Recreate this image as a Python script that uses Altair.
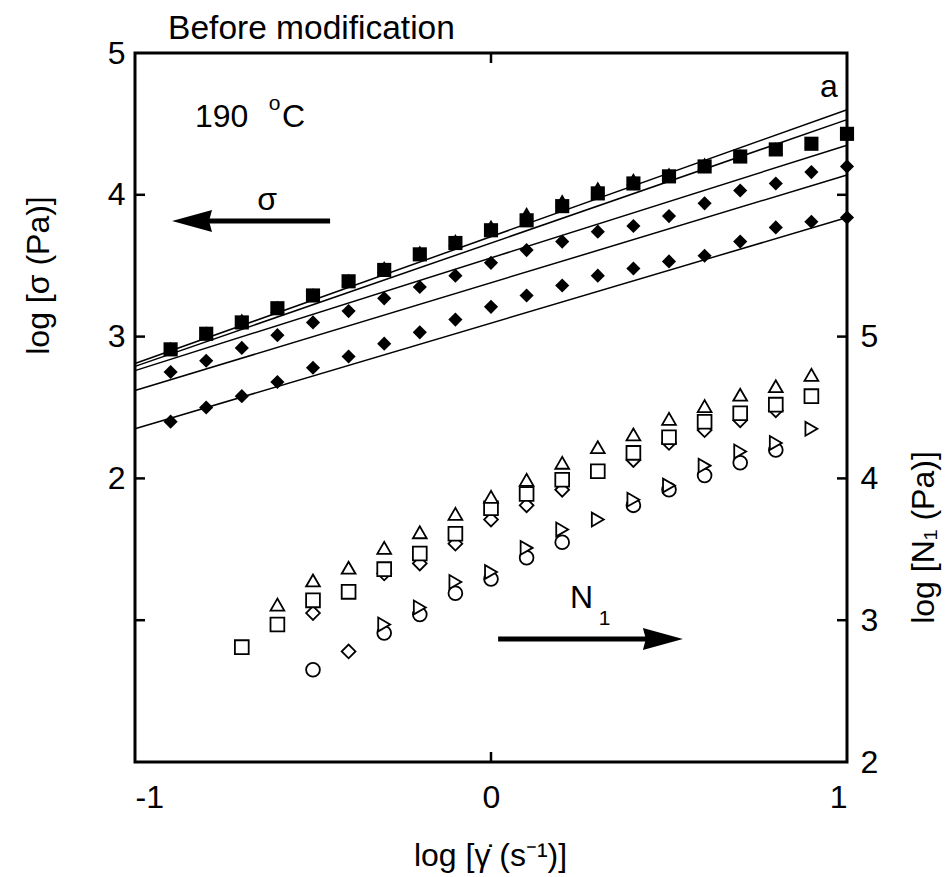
import altair as alt
import pandas as pd

# ---------------- data ----------------
# shear stress, log sigma (Pa) vs log shear rate
x_sig = [-0.9, -0.8, -0.7, -0.6, -0.5, -0.4, -0.3, -0.2, -0.1, 0.0,
         0.1, 0.2, 0.3, 0.4, 0.5, 0.6, 0.7, 0.8, 0.9, 1.0]
sig_square = [2.91, 3.02, 3.10, 3.20, 3.29, 3.39, 3.47, 3.58, 3.66, 3.75,
              3.82, 3.92, 4.01, 4.08, 4.13, 4.20, 4.27, 4.32, 4.36, 4.43]
x_sig_tri = [-0.9, -0.8, -0.7, -0.6, -0.5, -0.4, -0.3, -0.2, -0.1, 0.0,
             0.1, 0.2, 0.3, 0.4, 0.5, 0.6, 0.7, 0.8]
sig_triangle = [2.92, 3.03, 3.12, 3.21, 3.30, 3.40, 3.49, 3.60, 3.68, 3.78,
                3.87, 3.96, 4.05, 4.11, 4.15, 4.22, 4.28, 4.33]
sig_diamond = [2.75, 2.83, 2.92, 3.01, 3.10, 3.18, 3.27, 3.35, 3.43, 3.52,
               3.61, 3.67, 3.74, 3.78, 3.85, 3.94, 4.03, 4.08, 4.16, 4.20]
sig_lowest = [2.40, 2.50, 2.58, 2.68, 2.78, 2.86, 2.95, 3.03, 3.12, 3.21,
              3.29, 3.36, 3.43, 3.48, 3.53, 3.57, 3.67, 3.77, 3.81, 3.84]

# fitted lines (end points at log shear rate -1 and 1)
fit_x = [-1.0, 1.0]
fit_1 = [2.81, 4.60]
fit_2 = [2.79, 4.53]
fit_3 = [2.76, 4.35]
fit_4 = [2.62, 4.14]
fit_5 = [2.35, 3.84]

# first normal stress difference, log N1 (Pa)
x_n1_tri = [-0.6, -0.5, -0.4, -0.3, -0.2, -0.1, 0.0, 0.1, 0.2, 0.3, 0.4, 0.5, 0.6, 0.7, 0.8, 0.9]
n1_tri = [3.11, 3.28, 3.37, 3.51, 3.62, 3.75, 3.87, 3.99, 4.11, 4.22, 4.31, 4.42, 4.51, 4.59, 4.65, 4.73]
x_n1_sq = [-0.7, -0.6, -0.5, -0.4, -0.3, -0.2, -0.1, 0.0, 0.1, 0.2, 0.3, 0.4, 0.5, 0.6, 0.7, 0.8, 0.9]
n1_sq = [2.81, 2.97, 3.14, 3.20, 3.36, 3.47, 3.61, 3.79, 3.89, 3.99, 4.05, 4.18, 4.29, 4.40, 4.46, 4.52, 4.58]
x_n1_dia = [-0.5, -0.4, -0.3, -0.2, -0.1, 0.0, 0.1, 0.2, 0.4, 0.5, 0.6, 0.7, 0.8]
n1_dia = [3.05, 2.78, 3.33, 3.40, 3.54, 3.71, 3.81, 3.92, 4.13, 4.25, 4.34, 4.41, 4.48]
x_n1_circ = [-0.5, -0.3, -0.2, -0.1, 0.0, 0.1, 0.2, 0.4, 0.5, 0.6, 0.7, 0.8]
n1_circ = [2.65, 2.91, 3.04, 3.19, 3.29, 3.44, 3.55, 3.81, 3.92, 4.02, 4.11, 4.20]
x_n1_rtri = [-0.3, -0.2, -0.1, 0.0, 0.1, 0.2, 0.3, 0.4, 0.5, 0.6, 0.7, 0.8, 0.9]
n1_rtri = [2.97, 3.09, 3.27, 3.34, 3.51, 3.64, 3.71, 3.85, 3.95, 4.09, 4.19, 4.25, 4.35]

x_ticks = [-1, 0, 1]
y_left_ticks = [2, 3, 4, 5]
y_right_ticks = [2, 3, 4, 5]
inner_tick_y = [1, 2, 3, 4]
inner_tick_x = [0]

# text annotations
title_label = ["Before modification"]
left_labels = ["190", "C", "N"]
center_labels = ["σ", "a"]
small_labels = ["o", "1"]

FONT = "Liberation Sans"
W, H = 712, 709

# ---------------- tables ----------------
def series(xs, ys, name):
    return pd.DataFrame({"x": xs, "y": ys, "s": name})

sig_df = pd.concat([
    series(x_sig_tri, sig_triangle, "tri"),
    series(x_sig, sig_square, "sq"),
    series(x_sig, sig_diamond, "dia"),
    series(x_sig, sig_lowest, "low"),
], ignore_index=True)

fit_df = pd.concat([
    series(fit_x, fit_1, "f1"), series(fit_x, fit_2, "f2"), series(fit_x, fit_3, "f3"),
    series(fit_x, fit_4, "f4"), series(fit_x, fit_5, "f5"),
], ignore_index=True)

n1_df = pd.concat([
    series(x_n1_dia, n1_dia, "ndia"),
    series(x_n1_circ, n1_circ, "ncirc"),
    series(x_n1_sq, n1_sq, "nsq"),
    series(x_n1_rtri, n1_rtri, "nrtri"),
    series(x_n1_tri, n1_tri, "ntri"),
], ignore_index=True)

xscale = alt.Scale(domain=[-1, 1], nice=False, zero=False)
yscale_l = alt.Scale(domain=[0, 5], nice=False, zero=False)
yscale_r = alt.Scale(domain=[2, 7], nice=False, zero=False)

x_enc = alt.X("x:Q", scale=xscale,
              axis=alt.Axis(values=x_ticks, labelExpr="'' + datum.value", grid=False,
                            ticks=False, domain=False, labelPadding=20,
                            title="log [γ̇ (s⁻¹)]", titleX=355, titleY=93,
                            titleBaseline="middle"))
y_enc_l = alt.Y("y:Q", scale=yscale_l,
                axis=alt.Axis(values=y_left_ticks, labelExpr="'' + datum.value", grid=False,
                              ticks=False, domain=False, labelPadding=10,
                              title="log [σ (Pa)]", titleX=-97, titleY=222,
                              titleAngle=270, titleBaseline="middle", titleAlign="center"))

shape_sig = alt.Scale(domain=["tri", "sq", "dia", "low"],
                      range=["triangle-up", "square", "diamond", "diamond"])
shape_n1 = alt.Scale(domain=["ndia", "ncirc", "nsq", "nrtri", "ntri"],
                     range=["diamond", "circle", "square", "triangle-right", "triangle-up"])

fits = alt.Chart(fit_df).mark_line(color="black", strokeWidth=1.5).encode(
    x=x_enc, y=y_enc_l, detail="s:N")

sig_pts = alt.Chart(sig_df).mark_point(filled=True, color="black", size=200, opacity=1).encode(
    x=alt.X("x:Q", scale=xscale), y=alt.Y("y:Q", scale=yscale_l),
    shape=alt.Shape("s:N", scale=shape_sig, legend=None))

# inward tick marks
tick_df = pd.DataFrame({"y": inner_tick_y})
ticks_left = alt.Chart(tick_df).mark_rule(color="black", strokeWidth=2.5).encode(
    y=alt.Y("y:Q", scale=yscale_l), x=alt.value(0), x2=alt.value(10))
ticks_right = alt.Chart(tick_df).mark_rule(color="black", strokeWidth=2.5).encode(
    y=alt.Y("y:Q", scale=yscale_l), x=alt.value(W - 10), x2=alt.value(W))
xtick_df = pd.DataFrame({"x": inner_tick_x})
ticks_bottom = alt.Chart(xtick_df).mark_rule(color="black", strokeWidth=2.5).encode(
    x=alt.X("x:Q", scale=xscale), y=alt.value(H - 10), y2=alt.value(H))
ticks_top = alt.Chart(xtick_df).mark_rule(color="black", strokeWidth=2.5).encode(
    x=alt.X("x:Q", scale=xscale), y=alt.value(0), y2=alt.value(10))

# annotations
title_txt_df = pd.DataFrame({"x": [-0.907], "y": [5.099], "t": title_label})
left_txt_df = pd.DataFrame({"x": [-0.8315, -0.587, 0.222],
                            "y": [4.478, 4.478, 1.086], "t": left_labels})
center_txt_df = pd.DataFrame({"x": [-0.629, 0.949], "y": [3.893, 4.69], "t": center_labels})
small_txt_df = pd.DataFrame({"x": [-0.624, 0.303], "y": [4.60, 0.966], "t": small_labels})

txt_title = alt.Chart(title_txt_df).mark_text(font=FONT, fontSize=33.5, color="black",
                                              baseline="alphabetic", align="left").encode(
    x=alt.X("x:Q", scale=xscale), y=alt.Y("y:Q", scale=yscale_l), text="t:N")
txt_left = alt.Chart(left_txt_df).mark_text(font=FONT, fontSize=32, color="black",
                                            baseline="alphabetic", align="left").encode(
    x=alt.X("x:Q", scale=xscale), y=alt.Y("y:Q", scale=yscale_l), text="t:N")
txt_center = alt.Chart(center_txt_df).mark_text(font=FONT, fontSize=32, color="black",
                                                baseline="alphabetic", align="center").encode(
    x=alt.X("x:Q", scale=xscale), y=alt.Y("y:Q", scale=yscale_l), text="t:N")
txt_small = alt.Chart(small_txt_df).mark_text(font=FONT, fontSize=21, color="black",
                                              baseline="alphabetic", align="left").encode(
    x=alt.X("x:Q", scale=xscale), y=alt.Y("y:Q", scale=yscale_l), text="t:N")

# arrows
arrow_lines = pd.DataFrame({"x": [-0.452, 0.02], "x2": [-0.84, 0.45], "y": [3.815, 0.867]})
arr_lines = alt.Chart(arrow_lines).mark_rule(color="black", strokeWidth=5).encode(
    x=alt.X("x:Q", scale=xscale), x2="x2:Q", y=alt.Y("y:Q", scale=yscale_l))
arrow_left = pd.DataFrame({"x": [-0.896], "y": [3.815]})
arr_head_l = alt.Chart(arrow_left).mark_point(
    shape="M0,0L2,-0.55L1.85,0L2,0.55Z", size=1600, filled=True, color="black", opacity=1
).encode(x=alt.X("x:Q", scale=xscale), y=alt.Y("y:Q", scale=yscale_l))
arrow_right = pd.DataFrame({"x": [0.539], "y": [0.867]})
arr_head_r = alt.Chart(arrow_right).mark_point(
    shape="M0,0L-2,-0.55L-1.85,0L-2,0.55Z", size=1600, filled=True, color="black", opacity=1
).encode(x=alt.X("x:Q", scale=xscale), y=alt.Y("y:Q", scale=yscale_l))

left = alt.layer(fits, sig_pts, ticks_left, ticks_right, ticks_bottom, ticks_top,
                 arr_lines, arr_head_l, arr_head_r, txt_title, txt_left, txt_center, txt_small)

right = alt.Chart(n1_df).mark_point(filled=True, fill="white", stroke="black",
                                    strokeWidth=1.8, size=190, opacity=1).encode(
    x=alt.X("x:Q", scale=xscale),
    y=alt.Y("y:Q", scale=yscale_r,
            axis=alt.Axis(orient="right", values=y_right_ticks, labelExpr="'' + datum.value",
                          grid=False, ticks=False, domain=False, labelPadding=13,
                          title="log [N₁ (Pa)]", titleX=76, titleY=484, titleAngle=270,
                          titleBaseline="middle", titleAlign="center")),
    shape=alt.Shape("s:N", scale=shape_n1, legend=None))

chart = alt.layer(left, right).resolve_scale(y="independent", shape="independent").properties(
    width=W, height=H,
    autosize=alt.AutoSizeParams(type="none"),
    padding={"left": 135, "top": 53, "right": 101, "bottom": 115},
    background="white",
).configure_view(stroke="black", strokeWidth=3).configure_axis(
    labelFont=FONT, labelFontSize=32, labelColor="black",
    titleFont=FONT, titleFontSize=32, titleFontWeight="normal", titleColor="black",
)

chart.save("out.html", embed_options={"renderer": "svg", "actions": False})
